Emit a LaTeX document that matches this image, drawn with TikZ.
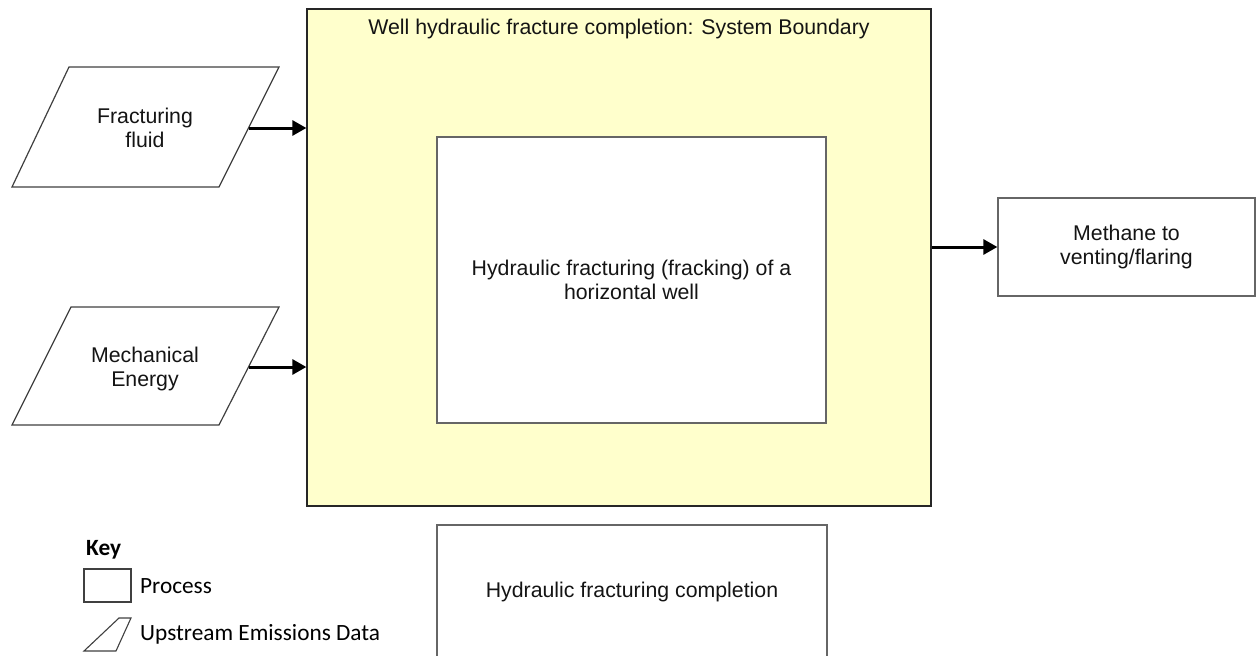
\documentclass[tikz,border=0pt]{standalone}
\usepackage{fontspec}
\setmainfont{Liberation Sans}
\newfontfamily\keyfont{Carlito}
\usetikzlibrary{arrows.meta}
\definecolor{sysyellow}{HTML}{FFFFCC}
\begin{document}
\begin{tikzpicture}[x=1pt,y=-1pt,
  box/.style={draw=black!60, line width=1.3pt, fill=white, inner sep=0pt},
  sysbox/.style={draw=black!85, line width=1.3pt, fill=sysyellow, inner sep=0pt},
  para/.style={draw=black!75, line width=1.2pt, fill=white},
  lbl/.style={font=\fontsize{21.3}{24.5}\selectfont, align=center, inner sep=0pt, text=black!92},
  keytxt/.style={font=\keyfont\fontsize{23.3}{27}\selectfont, inner sep=0pt, text=black},
  flow/.style={line width=3pt, -{Triangle[length=14pt,width=15pt]}},
]
\useasboundingbox (0,0) rectangle (1256,656);
\clip (0,0) rectangle (1256,656);

% system boundary
\node[sysbox, minimum width=624pt, minimum height=497pt] (sys) at (619,257.5) {};
\node[lbl] (systitle) at (619,29) {Well hydraulic fracture completion: System Boundary};

% inner process
\node[box, minimum width=389pt, minimum height=286pt, lbl] (frack) at (631.5,280)
  {Hydraulic fracturing (fracking) of a\\horizontal well};

% bottom process
\node[box, minimum width=390pt, minimum height=134pt, lbl] (compl) at (632,592)
  {Hydraulic fracturing completion};

% methane output
\node[box, minimum width=257pt, minimum height=98pt, lbl] (meth) at (1126.5,247)
  {Methane to\\venting/flaring};

% parallelogram inputs
\draw[para] (69,67) -- (279,67) -- (219,187) -- (12,187) -- cycle;
\node[lbl] (fluid) at (145,128) {Fracturing\\fluid};
\coordinate (fluidR) at (249,128);

\draw[para] (71,307) -- (279,307) -- (219,425) -- (12,425) -- cycle;
\node[lbl] (mech) at (145,369) {Mechanical\\Energy};
\coordinate (mechR) at (249,367);

% connectors
\draw[flow] (fluidR) -- (sys.west |- fluidR);
\draw[flow] (mechR) -- (sys.west |- mechR);
\draw[flow] (sys.east |- meth.west) -- (meth.west);

% key
\node[keytxt, font=\keyfont\bfseries\fontsize{23.3}{27}\selectfont, anchor=base west] (keyhead) at (86,555) {Key};
\node[draw=black!75, line width=1.1pt, minimum width=47pt, minimum height=33pt, inner sep=0pt] (keybox) at (107.5,585.5) {};
\node[keytxt, anchor=base west] (keyproc) at (140,593) {Process};
\draw[para, line width=1.1pt] (119,618) -- (131,618) -- (116,651) -- (84,651) -- cycle;
\node[keytxt, anchor=base west] (keyup) at (140,640) {Upstream Emissions Data};
\end{tikzpicture}
\end{document}
